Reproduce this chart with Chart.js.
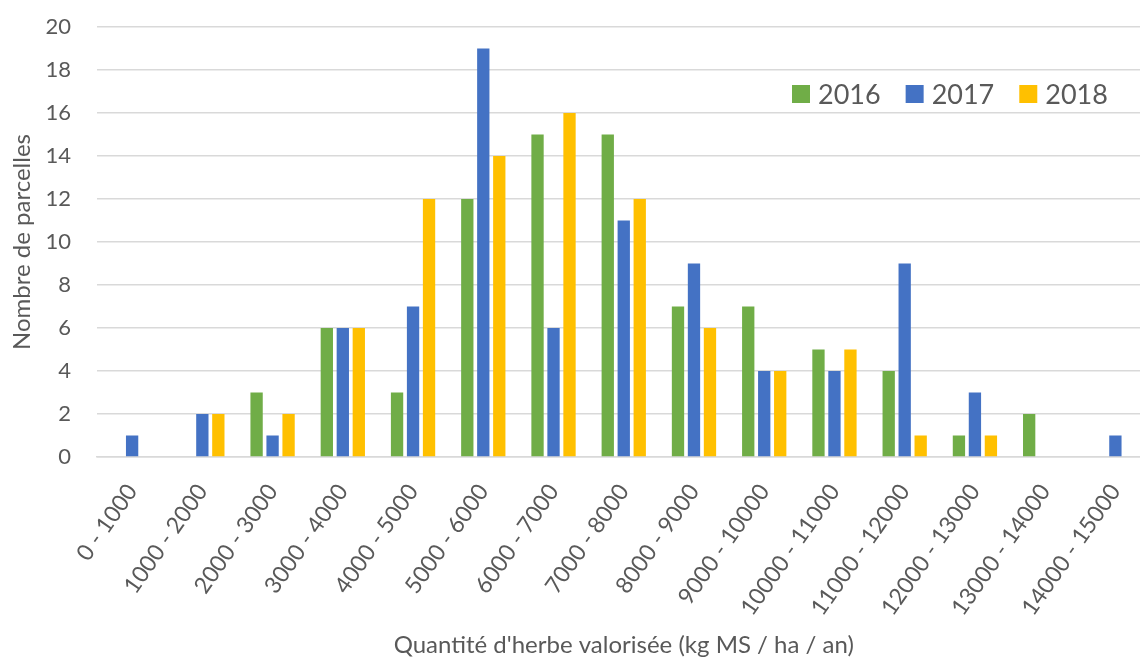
<!DOCTYPE html>
<html>
<head>
<meta charset="utf-8">
<script src="https://cdn.jsdelivr.net/npm/chart.js@4/dist/chart.umd.min.js"></script>
<style>
  html, body { margin: 0; padding: 0; background: #fff; overflow: hidden; }
  #wrap { width: 1152px; height: 662px; }
</style>
</head>
<body>
<div id="wrap"><canvas id="graphique"></canvas></div>
<script>
const categories = ["0 - 1000", "1000 - 2000", "2000 - 3000", "3000 - 4000", "4000 - 5000",
  "5000 - 6000", "6000 - 7000", "7000 - 8000", "8000 - 9000", "9000 - 10000",
  "10000 - 11000", "11000 - 12000", "12000 - 13000", "13000 - 14000", "14000 - 15000"];
const annees = ["2016", "2017", "2018"];
const valeurs2016 = [null, null, 3, 6, 3, 12, 15, 15, 7, 7, 5, 4, 1, 2, null];
const valeurs2017 = [1, 2, 1, 6, 7, 19, 6, 11, 9, 4, 4, 9, 3, null, 1];
const valeurs2018 = [null, 2, 2, 6, 12, 14, 16, 12, 6, 4, 5, 1, 1, null, null];
const couleurs = ["#70ad47", "#4472c4", "#ffc000"];

const police = "Lato, 'Open Sans', sans-serif";
const gris = "#595959";

// Légende dessinée à l'intérieur de la zone du graphique, en haut à droite
const legendeInterne = {
  id: "legendeInterne",
  afterDraw(chart) {
    const ctx = chart.ctx;
    const yMilieu = chart.chartArea.top + 67;
    let x = 792;
    ctx.save();
    ctx.font = "27px " + police;
    ctx.textBaseline = "middle";
    ctx.textAlign = "left";
    chart.data.datasets.forEach(ds => {
      ctx.fillStyle = ds.backgroundColor;
      ctx.fillRect(x, yMilieu - 9, 18, 18);
      ctx.fillStyle = gris;
      ctx.fillText(ds.label, x + 26, yMilieu + 1);
      x += 26 + ctx.measureText(ds.label).width + 25;
    });
    ctx.restore();
  }
};

new Chart(document.getElementById("graphique"), {
  type: "bar",
  data: {
    labels: categories,
    datasets: [valeurs2016, valeurs2017, valeurs2018].map((d, i) => ({
      label: annees[i],
      data: d,
      backgroundColor: couleurs[i],
      barPercentage: 0.77,
      categoryPercentage: 0.683
    }))
  },
  options: {
    responsive: true,
    maintainAspectRatio: false,
    animation: false,
    layout: { padding: { top: 5, right: 0, left: 8, bottom: 2 } },
    plugins: {
      legend: { display: false },
      tooltip: { enabled: false }
    },
    scales: {
      x: {
        afterFit: s => { s.height = 203; },
        grid: { display: false },
        border: { color: "#d9d9d9", width: 1.5 },
        ticks: {
          font: { family: police, size: 23 },
          color: gris,
          maxRotation: 55,
          minRotation: 55,
          padding: 14
        },
        title: {
          display: true,
          text: "Quantité d'herbe valorisée (kg MS / ha / an)",
          font: { family: police, size: 24 },
          color: gris,
          padding: { top: 0, bottom: 0 }
        }
      },
      y: {
        afterFit: s => { s.width = 89; s.paddingTop = 27; s.paddingBottom = 0; },
        min: 0,
        max: 20,
        ticks: {
          stepSize: 2,
          font: { family: police, size: 22 },
          color: gris,
          padding: 26
        },
        grid: { color: "#d9d9d9", lineWidth: 1.5, drawTicks: false },
        border: { display: false },
        title: {
          display: true,
          text: "Nombre de parcelles",
          font: { family: police, size: 24 },
          color: gris,
          padding: { top: 0, bottom: 0 }
        }
      }
    }
  },
  plugins: [legendeInterne]
});
</script>
</body>
</html>
